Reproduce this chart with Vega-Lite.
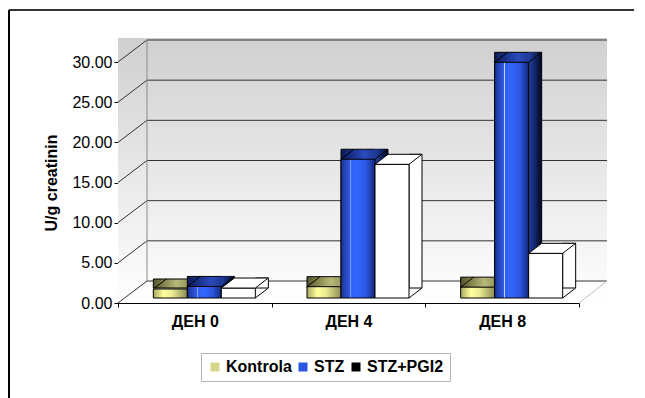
{
  "$schema": "https://vega.github.io/schema/vega-lite/v6.json",
  "width": 461,
  "height": 241,
  "autosize": {"type": "none"},
  "padding": {"left": 118, "top": 62, "right": 66, "bottom": 95},
  "background": "white",
  "config": {
    "font": "Liberation Sans",
    "view": {"stroke": null},
    "axis": {
      "zindex": 1,
      "domainColor": "#000",
      "tickColor": "#000",
      "labelColor": "#000",
      "titleColor": "#000",
      "labelFontSize": 16,
      "titleFontSize": 16,
      "titleFontWeight": "bold",
      "grid": false,
      "tickSize": 4
    },
    "axisY": {"values": [0, 5, 10, 15, 20, 25, 30], "format": ".2f", "labelPadding": 2, "titlePadding": 12},
    "axisX": {"labelFontWeight": "bold", "labelPadding": 6, "labelAngle": 0},
    "legend": {
      "orient": "none",
      "legendX": 83,
      "legendY": 291,
      "direction": "horizontal",
      "symbolType": "square",
      "symbolSize": 81,
      "symbolOpacity": 1,
      "symbolStrokeWidth": 0,
      "labelFontSize": 16,
      "labelFontWeight": "bold",
      "labelColor": "#000",
      "labelOffset": 3,
      "columnPadding": 3,
      "padding": 6,
      "strokeColor": "#b4b4b4",
      "fillColor": "white"
    }
  },
  "datasets": {
    "levels": [
      {"level": 0}, {"level": 5}, {"level": 10}, {"level": 15},
      {"level": 20}, {"level": 25}, {"level": 30}
    ],
    "bars": [
      {"day": "ДЕН 0", "series": "Kontrola", "value": 1.12},
      {"day": "ДЕН 0", "series": "STZ", "value": 1.44},
      {"day": "ДЕН 0", "series": "STZ+PGI2", "value": 1.24},
      {"day": "ДЕН 4", "series": "Kontrola", "value": 1.41},
      {"day": "ДЕН 4", "series": "STZ", "value": 17.27},
      {"day": "ДЕН 4", "series": "STZ+PGI2", "value": 16.64},
      {"day": "ДЕН 8", "series": "Kontrola", "value": 1.35},
      {"day": "ДЕН 8", "series": "STZ", "value": 29.34},
      {"day": "ДЕН 8", "series": "STZ+PGI2", "value": 5.56}
    ]
  },
  "resolve": {"scale": {"x": "independent"}},
  "layer": [
    {
      "data": {"name": "levels"},
      "encoding": {
        "x": {"datum": 0, "type": "quantitative", "scale": {"domain": [0, 1], "nice": false, "zero": false}, "axis": null},
        "y": {"field": "level", "type": "quantitative", "scale": {"domain": [0, 30], "nice": false}, "title": "U/g creatinin"}
      },
      "layer": [
        {
          "transform": [{"filter": "datum.level === 0"}],
          "mark": {"type": "rule", "color": "#333", "strokeWidth": 2, "xOffset": -109, "x2Offset": 55, "yOffset": -52},
          "encoding": {"x2": {"datum": 1}, "y": {"datum": 30, "type": "quantitative"}}
        },
        {
          "transform": [{"filter": "datum.level === 0"}],
          "mark": {"type": "rule", "color": "#000", "strokeWidth": 2, "xOffset": -109, "yOffset": -52, "y2Offset": 95},
          "encoding": {"y": {"datum": 30, "type": "quantitative"}, "y2": {"datum": 0}}
        },
        {
          "transform": [{"filter": "datum.level === 0"}],
          "mark": {
            "type": "rect",
            "x2Offset": 28,
            "yOffset": -24,
            "color": {
              "gradient": "linear", "x1": 0, "y1": 0, "x2": 0, "y2": 1,
              "stops": [{"offset": 0, "color": "#d0d0d0"}, {"offset": 1, "color": "#ffffff"}]
            }
          },
          "encoding": {
            "x2": {"datum": 1},
            "y": {"datum": 30, "type": "quantitative"},
            "y2": {"datum": 0}
          }
        },
        {
          "mark": {"type": "rule", "color": "#333", "strokeWidth": 1, "xOffset": 29, "x2Offset": 28, "yOffset": -22},
          "encoding": {"x2": {"datum": 1}}
        },
        {
          "mark": {"type": "rule", "color": "#333", "strokeWidth": 1, "x2Offset": 29, "y2Offset": -22},
          "encoding": {"x2": {"datum": 0}, "y2": {"field": "level"}}
        },
        {
          "transform": [{"filter": "datum.level === 0"}],
          "mark": {"type": "rule", "color": "#8a8a8a", "strokeWidth": 1, "xOffset": 29, "yOffset": -22, "y2Offset": -22},
          "encoding": {"y2": {"datum": 30}}
        },
        {
          "transform": [{"filter": "datum.level === 0"}],
          "mark": {"type": "rule", "color": "#c0c0c0", "strokeWidth": 1, "x2Offset": 28, "y2Offset": -22},
          "encoding": {"x": {"datum": 1, "type": "quantitative"}, "x2": {"datum": 1}, "y2": {"datum": 0}}
        }
      ]
    },
    {
      "data": {"name": "bars"},
      "encoding": {
        "x": {
          "field": "day", "type": "nominal", "title": null,
          "scale": {"domain": ["ДЕН 0", "ДЕН 4", "ДЕН 8"], "paddingInner": 0, "paddingOuter": 0},
          "axis": {"tickBand": "extent"}
        },
        "y": {"field": "value", "type": "quantitative", "scale": {"domain": [0, 30], "nice": false}, "title": "U/g creatinin"}
      },
      "layer": [
        {
          "transform": [{"filter": "datum.series === 'Kontrola'"}],
          "mark": {
            "type": "bar", "width": 47, "xOffset": -18, "yOffset": -15, "y2Offset": -5,
            "stroke": "#000", "strokeWidth": 1, "opacity": 1,
            "fill": {
              "gradient": "linear", "x1": 0, "y1": 0, "x2": 1, "y2": 0,
              "stops": [{"offset": 0, "color": "#55552a"}, {"offset": 0.5, "color": "#b9b97a"}, {"offset": 1, "color": "#6d6d3c"}]
            }
          }
        },
        {
          "transform": [{"filter": "datum.series === 'Kontrola'"}],
          "mark": {
            "type": "bar", "width": 34, "xOffset": -24.5, "yOffset": -5, "y2Offset": -5,
            "stroke": "#000", "strokeWidth": 1, "opacity": 1,
            "fill": {
              "gradient": "linear", "x1": 0, "y1": 0, "x2": 1, "y2": 0,
              "stops": [
                {"offset": 0, "color": "#a8a862"}, {"offset": 0.3, "color": "#ffff9c"},
                {"offset": 0.55, "color": "#ecec94"}, {"offset": 1, "color": "#8c8c54"}
              ]
            }
          }
        },
        {
          "transform": [{"filter": "datum.series === 'Kontrola'"}],
          "mark": {"type": "point", "shape": "M -17 0 L -4 -10 M 17 0 L 30 -10", "size": 4, "filled": false, "stroke": "#000", "strokeWidth": 1, "opacity": 1, "xOffset": -24.5, "yOffset": -5}
        },
        {
          "transform": [{"filter": "datum.series === 'STZ'"}],
          "mark": {
            "type": "bar", "width": 47, "xOffset": 16, "yOffset": -15, "y2Offset": -5,
            "stroke": "#000", "strokeWidth": 1, "opacity": 1,
            "fill": {
              "gradient": "linear", "x1": 0, "y1": 0, "x2": 1, "y2": 0,
              "stops": [{"offset": 0, "color": "#0c1a58"}, {"offset": 0.5, "color": "#2a4bbd"}, {"offset": 1, "color": "#102266"}]
            }
          }
        },
        {
          "transform": [{"filter": "datum.series === 'STZ'"}],
          "mark": {
            "type": "bar", "width": 13, "xOffset": 33, "yOffset": -15, "y2Offset": -5, "opacity": 1,
            "fill": {
              "gradient": "linear", "x1": 0, "y1": 0, "x2": 1, "y2": 0,
              "stops": [{"offset": 0, "color": "#22409f"}, {"offset": 0.5, "color": "#12246a"}, {"offset": 1, "color": "#040818"}]
            }
          }
        },
        {
          "transform": [{"filter": "datum.series === 'STZ'"}],
          "mark": {
            "type": "bar", "width": 34, "xOffset": 9.5, "yOffset": -5, "y2Offset": -5,
            "stroke": "#000", "strokeWidth": 1, "opacity": 1,
            "fill": {
              "gradient": "linear", "x1": 0, "y1": 0, "x2": 1, "y2": 0,
              "stops": [
                {"offset": 0, "color": "#1a3390"}, {"offset": 0.27, "color": "#2f5ae6"},
                {"offset": 0.29, "color": "#c8d6ff"}, {"offset": 0.31, "color": "#3262f4"},
                {"offset": 0.5, "color": "#3366ff"}, {"offset": 0.75, "color": "#2b55dc"},
                {"offset": 1, "color": "#13287a"}
              ]
            }
          }
        },
        {
          "transform": [{"filter": "datum.series === 'STZ'"}],
          "mark": {"type": "point", "shape": "M -17 0 L -4 -10 M 17 0 L 30 -10", "size": 4, "filled": false, "stroke": "#000", "strokeWidth": 1, "opacity": 1, "xOffset": 9.5, "yOffset": -5}
        },
        {
          "transform": [{"filter": "datum.series === 'STZ+PGI2'"}],
          "mark": {"type": "bar", "width": 13, "xOffset": 67, "yOffset": -15, "y2Offset": -5, "fill": "#fff", "stroke": "#000", "strokeWidth": 1, "opacity": 1}
        },
        {
          "transform": [{"filter": "datum.series === 'STZ+PGI2'"}],
          "mark": {"type": "bar", "width": 34, "xOffset": 43.5, "yOffset": -5, "y2Offset": -5, "fill": "#fff", "stroke": "#000", "strokeWidth": 1, "opacity": 1}
        },
        {
          "transform": [{"filter": "datum.series === 'STZ+PGI2'"}],
          "mark": {"type": "point", "shape": "M -17 0 L 17 0 L 30 -10 L -4 -10 Z", "size": 4, "filled": true, "fill": "#fff", "stroke": "#000", "strokeWidth": 1, "opacity": 1, "xOffset": 43.5, "yOffset": -5}
        },
        {
          "transform": [{"filter": "datum.series === 'STZ+PGI2'"}],
          "mark": {"type": "point", "shape": "M 17.5 0.8 L 31.5 0.8 L 31.5 -10.8 Z", "size": 4, "filled": true, "fill": "#fff", "strokeWidth": 0, "opacity": 1, "xOffset": 43.5, "yOffset": -5},
          "encoding": {"y": {"datum": 0, "type": "quantitative"}}
        },
        {
          "transform": [{"filter": "datum.series === 'STZ+PGI2'"}],
          "mark": {"type": "point", "shape": "M 17 0 L 30 -10", "size": 4, "filled": false, "stroke": "#000", "strokeWidth": 1, "opacity": 1, "xOffset": 43.5, "yOffset": -5},
          "encoding": {"y": {"datum": 0, "type": "quantitative"}}
        },
        {
          "mark": {"type": "point", "filled": true, "opacity": 0},
          "encoding": {
            "color": {
              "field": "series", "type": "nominal", "title": null,
              "scale": {"domain": ["Kontrola", "STZ", "STZ+PGI2"], "range": ["#d6d68a", "#2b55e0", "#000000"]}
            }
          }
        }
      ]
    }
  ]
}
